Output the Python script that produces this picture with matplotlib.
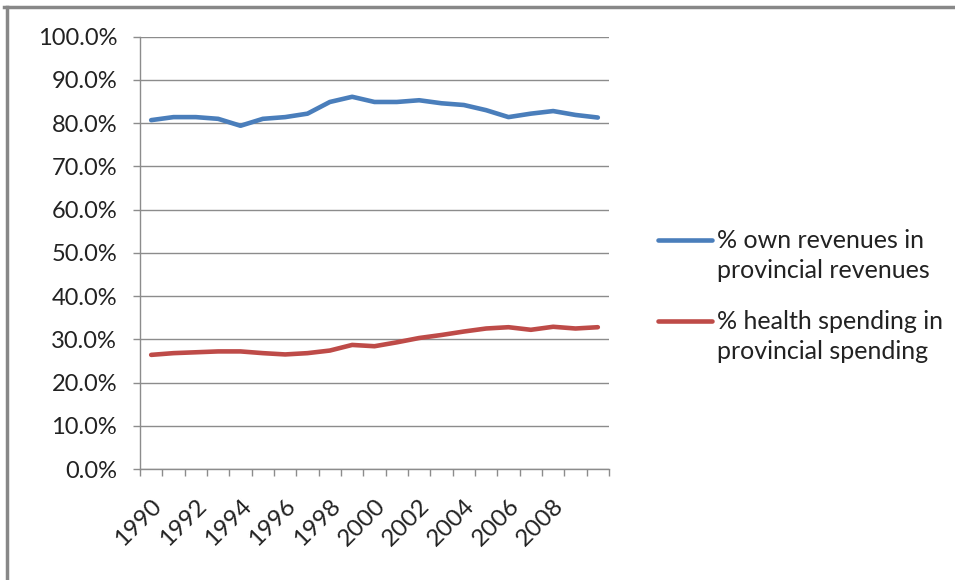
import matplotlib
matplotlib.use("Agg")
import matplotlib.pyplot as plt
from matplotlib.lines import Line2D
from matplotlib.ticker import FixedLocator, PercentFormatter
from matplotlib.transforms import ScaledTranslation

plt.rcParams['font.family'] = ['Lato', 'DejaVu Sans']

# Years 1990-2010; labels shown every second year
years = list(range(1990, 2011))
year_labels = ['1990', '1992', '1994', '1996', '1998', '2000', '2002', '2004', '2006', '2008']

own_revenues = [80.7, 81.4, 81.4, 81.0, 79.4, 81.0, 81.4, 82.2, 84.9, 86.1, 84.9,
                84.9, 85.3, 84.6, 84.2, 83.0, 81.4, 82.2, 82.8, 81.9, 81.3]
health_spending = [26.4, 26.8, 27.0, 27.2, 27.2, 26.8, 26.5, 26.8, 27.4, 28.7, 28.4,
                   29.3, 30.3, 31.0, 31.8, 32.5, 32.8, 32.2, 32.9, 32.5, 32.8]
series_names = [('% own revenues in', 'provincial revenues'),
                ('% health spending in', 'provincial spending')]
colors = ['#4a7ebb', '#be4b48']

W, H = 955, 580
fig = plt.figure(figsize=(W / 100, H / 100), dpi=100)
ax = fig.add_axes([140 / W, 1 - 469 / H, (609 - 140) / W, (469 - 36.7) / H])

idx = list(range(len(years)))
for vals, c in zip([own_revenues, health_spending], colors):
    ax.plot(idx, vals, color=c, lw=3.3, solid_capstyle='round', solid_joinstyle='round')

ax.set_xlim(-0.5, len(years) - 0.5)
ax.set_ylim(0, 100)
ax.set_yticks(range(0, 101, 10))
ax.yaxis.set_major_formatter(PercentFormatter(decimals=1))
ax.grid(axis='y', color='#8c8c8c', lw=1)
ax.set_axisbelow(True)

label_pos = [years.index(int(y)) for y in year_labels]
ax.set_xticks(label_pos)
ax.set_xticklabels(year_labels, rotation=45, ha='right', va='top',
                   rotation_mode='anchor')
shift = ScaledTranslation(0.05, 0, fig.dpi_scale_trans)
for lab in ax.get_xticklabels():
    lab.set_transform(lab.get_transform() + shift)
ax.xaxis.set_minor_locator(FixedLocator([i - 0.5 for i in range(len(years) + 1)]))
ax.tick_params(axis='x', which='major', length=0, pad=19, labelsize=17.5,
               colors='#222222')
ax.tick_params(axis='x', which='minor', length=5, width=1, color='#8c8c8c',
               direction='out')
ax.tick_params(axis='y', length=5, width=1, color='#8c8c8c', pad=11.5,
               labelsize=17, labelcolor='#222222')

for side in ('top', 'right'):
    ax.spines[side].set_visible(False)
for side in ('left', 'bottom'):
    ax.spines[side].set_color('#8c8c8c')
    ax.spines[side].set_linewidth(1)

# Legend: handle beside the first line of each two-line entry
handle_y = [240, 321]
for (l1, l2), c, hy in zip(series_names, colors, handle_y):
    fig.add_artist(Line2D([658 / W, 712 / W], [1 - hy / H, 1 - hy / H], color=c,
                          lw=3.3, solid_capstyle='round', transform=fig.transFigure))
    fig.text(717 / W, 1 - (hy + 8) / H, l1, fontsize=18, color='#222222',
             va='baseline', ha='left')
    fig.text(717 / W, 1 - (hy + 38) / H, l2, fontsize=18, color='#222222',
             va='baseline', ha='left')

# Chart border (top and left edges)
fig.add_artist(Line2D([4 / W, 1], [1 - 7 / H, 1 - 7 / H], color='#888888',
                      lw=2.5, transform=fig.transFigure))
fig.add_artist(Line2D([7 / W, 7 / W], [0, 1 - 7 / H], color='#888888',
                      lw=2.5, transform=fig.transFigure))

fig.savefig('out.png', dpi=100)
